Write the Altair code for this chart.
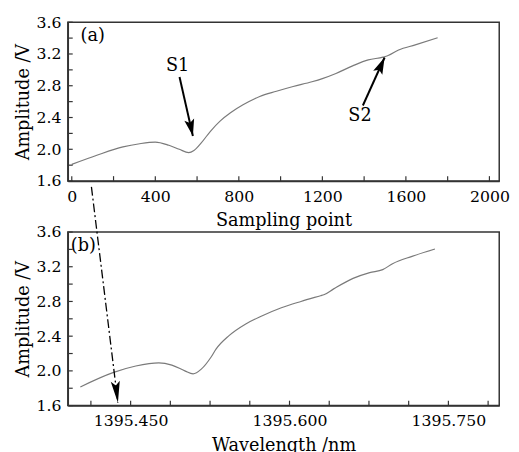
import altair as alt
import pandas as pd

# ---------------- data ----------------
samples = [0, 120, 245, 325, 400, 465, 515, 560, 585, 620, 665, 710, 760, 820,
           900, 980, 1060, 1150, 1200, 1265, 1345, 1420, 1490, 1515, 1565, 1645, 1752]
amp_a = [1.81, 1.925, 2.03, 2.07, 2.09, 2.05, 2.0, 1.958, 1.985, 2.08, 2.23, 2.355,
         2.46, 2.56, 2.665, 2.73, 2.79, 2.85, 2.89, 2.955, 3.05, 3.125, 3.16, 3.18,
         3.25, 3.315, 3.405]

wavelength = [1395.4025, 1395.4333, 1395.4549, 1395.4766, 1395.4889, 1395.5012,
              1395.509, 1395.5167, 1395.526, 1395.5306, 1395.5429, 1395.5583,
              1395.5738, 1395.5923, 1395.6108, 1395.6293, 1395.6324, 1395.6417,
              1395.660, 1395.6757, 1395.688, 1395.6973, 1395.7157, 1395.7373]
amp_b = [1.815, 1.98, 2.056, 2.093, 2.067, 2.0, 1.965, 2.02, 2.16, 2.25, 2.406,
         2.538, 2.632, 2.727, 2.80, 2.866, 2.877, 2.945, 3.066, 3.133, 3.167, 3.235,
         3.32, 3.405]

y_ticks = [1.6, 1.8, 2.0, 2.2, 2.4, 2.6, 2.8, 3.0, 3.2, 3.4, 3.6]
xa_ticks = [0, 200, 400, 600, 800, 1000, 1200, 1400, 1600, 1800, 2000]
xb_ticks = [1395.4125, 1395.45, 1395.4875, 1395.525, 1395.5625, 1395.6, 1395.6375,
            1395.675, 1395.7125, 1395.75, 1395.7875]

# annotations (panel a: sampling point / amplitude ; panel b: wavelength / amplitude)
label_a_left = ["(a)"]
label_a_left_x = [42]
label_a_left_y = [3.427]
labels_s = ["S1", "S2"]
labels_s_x = [507, 1380]
labels_s_y = [3.044, 2.415]

arrows_a_x = [516, 1394]
arrows_a_y = [2.909, 2.551]
arrows_a_x2 = [580, 1498]
arrows_a_y2 = [2.168, 3.156]
arrows_a_angle = [167.3, 24.2]

label_b = ["(b)"]
label_b_x = [1395.3935]
label_b_y = [3.442]

dash_x = [1395.413]
dash_y = [4.12]
dash_x2 = [1395.438]
dash_y2 = [1.634]
dash_angle = [173.0]

FONT = "DejaVu Serif"
FRAME = "#333333"
HEAD_S = "M0,0L0.6,2L0,1.6L-0.6,2Z"
HEAD_D = "M0,0L0.42,2L0,1.6L-0.42,2Z"
H_A, H_B, W = 162, 177, 440
TICK = 5

df_a = pd.DataFrame({"x": samples, "y": amp_a})
df_b = pd.DataFrame({"x": wavelength, "y": amp_b})
df_la = pd.DataFrame({"t": label_a_left, "x": label_a_left_x, "y": label_a_left_y})
df_ls = pd.DataFrame({"t": labels_s, "x": labels_s_x, "y": labels_s_y})
df_ara = pd.DataFrame({"x": arrows_a_x, "y": arrows_a_y, "x2": arrows_a_x2,
                       "y2": arrows_a_y2, "ang": arrows_a_angle})
df_lb = pd.DataFrame({"t": label_b, "x": label_b_x, "y": label_b_y})
df_d = pd.DataFrame({"x": dash_x, "y": dash_y, "x2": dash_x2, "y2": dash_y2, "ang": dash_angle})
df_yt = pd.DataFrame({"y": y_ticks})
df_xat = pd.DataFrame({"x": xa_ticks})
df_xbt = pd.DataFrame({"x": xb_ticks})

y_axis = alt.Axis(values=y_ticks, title="Amplitude /V", ticks=False, labelPadding=7,
                  labelExpr="round(datum.value*10) % 4 == 0 ? format(datum.value, '.1f') : ''",
                  labelOverlap=False, titlePadding=4)
y_scale = alt.Scale(domain=[1.6, 3.6], nice=False, zero=False)

xa_axis = alt.Axis(values=xa_ticks, title="Sampling point", ticks=False, labelPadding=8,
                   labelExpr="datum.value % 400 == 0 ? format(datum.value, 'd') : ''",
                   labelOverlap=False, labelFlush=False, titlePadding=7)
xa_scale = alt.Scale(domain=[-19, 2047], nice=False, zero=False)

xb_axis = alt.Axis(values=xb_ticks, title="Wavelength /nm", ticks=False, labelPadding=7,
                   labelExpr="round(datum.value*10000) % 1500 == 0 ? format(datum.value, '.3f') : ''",
                   labelOverlap=False, labelFlush=False, titlePadding=9)
xb_scale = alt.Scale(domain=[1395.3907, 1395.798], nice=False, zero=False)

XA = alt.X("x:Q", scale=xa_scale, axis=xa_axis)
XB = alt.X("x:Q", scale=xb_scale, axis=xb_axis)
XA2 = alt.X("x2:Q", scale=xa_scale, axis=xa_axis)
XB2 = alt.X("x2:Q", scale=xb_scale, axis=xb_axis)
Y = alt.Y("y:Q", scale=y_scale, axis=y_axis)
Y2 = alt.Y("y2:Q", scale=y_scale, axis=y_axis)


def ticks_layers(xenc, df_xt, h):
    tx = alt.Chart(df_xt).mark_rule(color=FRAME, strokeWidth=1.2).encode(
        x=xenc, y=alt.value(h), y2=alt.value(h - TICK))
    ty = alt.Chart(df_yt).mark_rule(color=FRAME, strokeWidth=1.2).encode(
        y=Y, x=alt.value(0), x2=alt.value(TICK))
    return tx, ty


# ---------------- panel (a) ----------------
line_a = alt.Chart(df_a).mark_line(color="#7a7a7a", strokeWidth=1.2, interpolate="monotone").encode(
    x=XA, y=Y)
text_a_left = alt.Chart(df_la).mark_text(
    font=FONT, fontSize=18, color="black", baseline="middle", align="left").encode(
    x=XA, y=Y, text="t:N")
text_a_center = alt.Chart(df_ls).mark_text(
    font=FONT, fontSize=18, color="black", baseline="middle", align="center").encode(
    x=XA, y=Y, text="t:N")
shaft_a = alt.Chart(df_ara).mark_rule(color="black", strokeWidth=2).encode(
    x=XA, y=Y, x2="x2:Q", y2="y2:Q")
head_a = alt.Chart(df_ara).mark_point(shape=HEAD_S, size=289, filled=True, color="black",
                                      opacity=1, strokeWidth=0).encode(
    x=XA2, y=Y2, angle=alt.Angle("ang:Q", scale=None))
txa, tya = ticks_layers(XA, df_xat, H_A)

panel_a = alt.layer(line_a, txa, tya, text_a_left, text_a_center, shaft_a, head_a).properties(
    width=W, height=H_A)

# ---------------- panel (b) ----------------
line_b = alt.Chart(df_b).mark_line(color="#7a7a7a", strokeWidth=1.2, interpolate="monotone").encode(
    x=XB, y=Y)
text_b = alt.Chart(df_lb).mark_text(font=FONT, fontSize=18, color="black", baseline="middle",
                                    align="left").encode(x=XB, y=Y, text="t:N")
dash_line = alt.Chart(df_d).mark_rule(color="black", strokeWidth=1.3,
                                      strokeDash=[9, 3, 2, 3]).encode(
    x=XB, y=Y, x2="x2:Q", y2="y2:Q")
dash_head = alt.Chart(df_d).mark_point(shape=HEAD_D, size=484, filled=True, color="black",
                                       opacity=1, strokeWidth=0).encode(
    x=XB2, y=Y2, angle=alt.Angle("ang:Q", scale=None))
txb, tyb = ticks_layers(XB, df_xbt, H_B)

panel_b = alt.layer(line_b, txb, tyb, text_b, dash_line, dash_head).properties(width=W, height=H_B)

chart = alt.vconcat(panel_a, panel_b, spacing=52, bounds="flush").properties(
    padding={"left": 5, "top": 1, "right": 0, "bottom": 0}
).configure_view(
    stroke=FRAME, strokeWidth=1.5
).configure_axis(
    grid=False, domainColor=FRAME, domainWidth=1.5,
    labelFont=FONT, labelFontSize=16, labelColor="black",
    titleFont=FONT, titleFontSize=18, titleFontWeight="normal", titleColor="black",
)

chart.save("out.html", embed_options={"renderer": "svg", "actions": False})
